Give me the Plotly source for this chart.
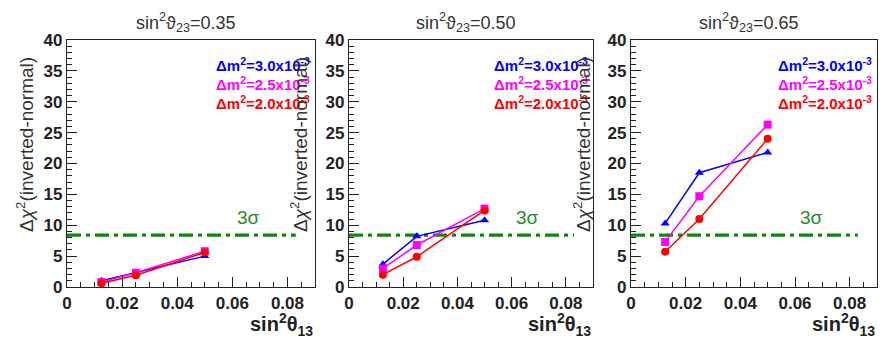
import plotly.graph_objects as go

# sin^2(theta13) points
x_vals = [0.0125, 0.025, 0.05]

# panel labels (sin^2 theta23)
panel_labels = ["0.35", "0.50", "0.65"]

# delta chi^2 (inverted - normal), one list per dm^2 per panel
blue_035 = [1.0, 2.3, 5.0]
mag_035 = [0.8, 2.3, 5.8]
red_035 = [0.6, 1.9, 5.6]

blue_050 = [3.7, 8.2, 10.8]
mag_050 = [3.0, 6.8, 12.7]
red_050 = [2.0, 4.9, 12.4]

blue_065 = [10.3, 18.5, 21.8]
mag_065 = [7.3, 14.7, 26.3]
red_065 = [5.7, 11.0, 24.0]

sigma3_level = 8.4
sigma3_x = [0.0, 0.083]

legend_labels = ["3.0", "2.5", "2.0"]

# page body has an 8px margin, so the figure is drawn 8px in from the corner
OFF = 8
W, H = 892 - OFF, 347 - OFF
FONT = "Liberation Sans, Arial, sans-serif"


def px(x):
    return (x - OFF) / W


def py(y):
    return 1 - (y - OFF) / H


series = [
    (blue_035, mag_035, red_035),
    (blue_050, mag_050, red_050),
    (blue_065, mag_065, red_065),
]
colors = ["#0000ff", "#ff00ff", "#ff0000"]
symbols = ["triangle-up", "square", "circle"]

# window-pixel frames of the three pads, and where their y titles sit
frames = [(67, 315), (349, 593), (631, 877)]
ytitle_x = [25, 299, 582]
y_top, y_bot = 40, 287

fig = go.Figure()

for i, (blue, mag, red) in enumerate(series):
    n = "" if i == 0 else str(i + 1)
    xa, ya = "x" + n, "y" + n
    # 3 sigma reference
    fig.add_trace(go.Scatter(
        x=sigma3_x, y=[sigma3_level, sigma3_level], mode="lines",
        line=dict(color="#0a8a0a", width=3.2, dash="14px,5px,4px,5px"),
        xaxis=xa, yaxis=ya, showlegend=False, hoverinfo="skip"))
    for vals, c, s in zip((blue, mag, red), colors, symbols):
        fig.add_trace(go.Scatter(
            x=x_vals, y=vals, mode="lines+markers",
            line=dict(color=c, width=1.5),
            marker=dict(color=c, symbol=s, size=8),
            xaxis=xa, yaxis=ya, showlegend=False))

layout = dict(
    width=W, height=H,
    margin=dict(l=0, r=0, t=0, b=0, autoexpand=False),
    paper_bgcolor="white", plot_bgcolor="white",
    showlegend=False,
)

tick_font = dict(family=FONT, size=17, color="#222", weight="bold")
annotations = []
for i, (x0, x1) in enumerate(frames):
    n = "" if i == 0 else str(i + 1)
    layout["xaxis" + n] = dict(
        domain=[px(x0), px(x1)], anchor="y" + n, range=[0, 0.09],
        tickvals=[0, 0.02, 0.04, 0.06, 0.08],
        ticktext=["0", "0.02", "0.04", "0.06", "0.08"],
        ticks="inside", ticklen=10, tickcolor="#222", tickwidth=1,
        minor=dict(dtick=0.005, tick0=0, ticks="inside", ticklen=5, tickcolor="#222"),
        showline=True, linecolor="#222", linewidth=1.2, mirror=True,
        showgrid=False, zeroline=False, automargin=False,
        tickfont=tick_font,
    )
    layout["yaxis" + n] = dict(
        domain=[py(y_bot), py(y_top)], anchor="x" + n, range=[0, 40],
        tickvals=[0, 5, 10, 15, 20, 25, 30, 35, 40],
        ticks="inside", ticklen=10, tickcolor="#222", tickwidth=1,
        minor=dict(dtick=1, tick0=0, ticks="inside", ticklen=5, tickcolor="#222"),
        showline=True, linecolor="#222", linewidth=1.2, mirror=True,
        showgrid=False, zeroline=False, automargin=False,
        tickfont=tick_font,
    )
    cx = (x0 + x1) / 2
    # pad title
    annotations.append(dict(
        text="sin<sup>2</sup>ϑ<sub>23</sub>=" + panel_labels[i],
        x=px(cx - 6), y=py(22), xref="paper", yref="paper",
        xanchor="center", yanchor="middle",
        showarrow=False, font=dict(family=FONT, size=18, color="#333")))
    # y title
    annotations.append(dict(
        text="Δ<i>χ</i><sup>2</sup>(inverted-normal)",
        x=px(ytitle_x[i]), y=py(145), xref="paper", yref="paper",
        xanchor="center", yanchor="middle",
        textangle=-90, showarrow=False,
        font=dict(family=FONT, size=19, color="#333")))
    # x title
    annotations.append(dict(
        text="<b>sin<sup>2</sup>θ<sub>13</sub></b>",
        x=px(x1), y=py(324), xref="paper", yref="paper",
        xanchor="right", yanchor="middle", showarrow=False,
        font=dict(family=FONT, size=20, color="#222")))
    # 3 sigma label
    annotations.append(dict(
        text="3σ", x=0.066, y=11.2, xref="x" + n, yref="y" + n,
        xanchor="center", yanchor="middle",
        showarrow=False, font=dict(family=FONT, size=19, color="#2a8a2a")))
    # dm^2 legend text
    for k, (lab, c) in enumerate(zip(legend_labels, colors)):
        annotations.append(dict(
            text="<b>Δm<sup>2</sup>=" + lab + "x10<sup>-3</sup></b>",
            x=px(x1 - 3), y=py(64 + 19 * k), xref="paper", yref="paper",
            xanchor="right", yanchor="middle", showarrow=False,
            font=dict(family=FONT, size=15, color=c)))

layout["annotations"] = annotations
fig.update_layout(**layout)
fig.write_html("out.html")
